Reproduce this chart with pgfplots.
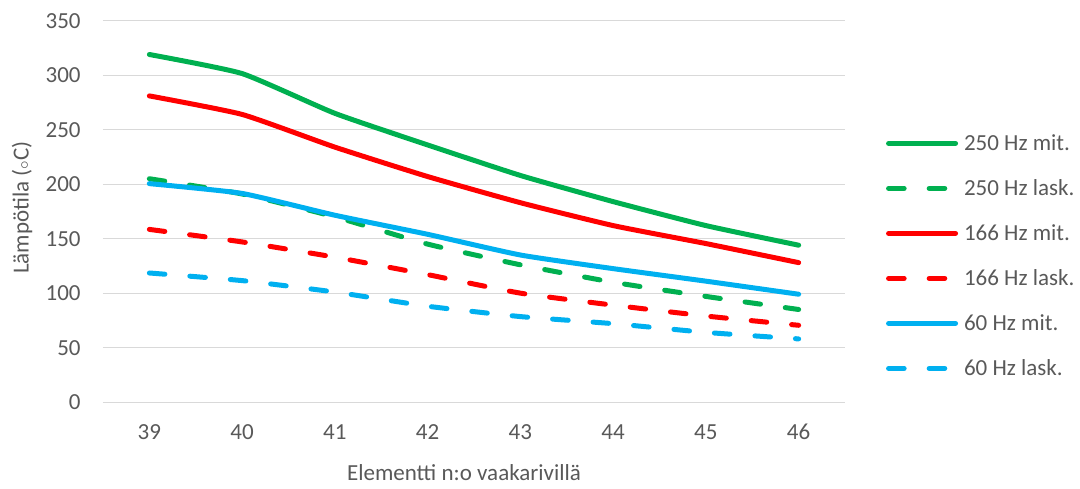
\documentclass[border=0pt]{standalone}
\usepackage{fontspec}
\setmainfont{Carlito}
\usepackage{pgfplots}
\pgfplotsset{compat=1.18}

\definecolor{xgreen}{HTML}{00B050}
\definecolor{xred}{HTML}{FF0000}
\definecolor{xblue}{HTML}{00B0F0}
\definecolor{gridgray}{HTML}{D9D9D9}
\definecolor{textgray}{HTML}{595959}

\begin{document}
\fontsize{11.5pt}{13.8pt}\selectfont
\begin{tikzpicture}
\begin{axis}[
    scale only axis,
    width=371pt, height=190.7pt,
    xmin=38.5, xmax=46.5,
    ymin=0, ymax=350,
    xtick={39,...,46},
    ytick={0,50,...,350},
    /pgf/number format/assume math mode=true,
    axis line style={draw=none},
    tick style={draw=none},
    ymajorgrids,
    major grid style={gridgray, line width=0.6pt},
    clip=false,
    xticklabel style={inner sep=0pt, text height=7.2pt, anchor=north, yshift=-11.5pt, text=textgray},
    yticklabel style={inner sep=0pt, anchor=east, xshift=-11pt, text=textgray},
    xlabel={Elementti n:o vaakarivillä},
    ylabel={Lämpötila (${\scriptstyle\circ}$C)},
    every axis x label/.style={at={(rel axis cs:0.4865,-0.2046)}, anchor=base, text=textgray},
    every axis y label/.style={at={(rel axis cs:-0.1092,0.51)}, rotate=90, anchor=center, text=textgray},
    every axis plot/.append style={line width=2.5pt, line cap=round, line join=round, smooth, tension=0.3},
    legend image code/.code={\draw[#1] (1.25pt,3.6pt) -- (34.75pt,3.6pt);},
    legend cell align=left,
    legend style={draw=none, fill=none, inner sep=0pt, outer sep=0pt,
        at={(rel axis cs:1.0553,0.7015)}, anchor=north west,
        row sep=12.5pt, column sep=3pt,
        nodes={inner sep=0pt, text height=8pt, text depth=2pt, anchor=base west, text=textgray}},
]
\addplot[xgreen] coordinates {(39,319) (40,301.5) (41,265) (42,236) (43,208) (44,184) (45,162) (46,144)};
\addlegendentry{250 Hz mit.}
\addplot[xgreen, dash pattern=on 7.8pt off 12.5pt] coordinates {(39,205) (40,191) (41,170) (42,145) (43,126) (44,110) (45,97) (46,85)};
\addlegendentry{250 Hz lask.}
\addplot[xred] coordinates {(39,281) (40,264) (41,234) (42,207) (43,183) (44,162) (45,145.5) (46,128)};
\addlegendentry{166 Hz mit.}
\addplot[xred, dash pattern=on 7.8pt off 12.5pt] coordinates {(39,158.5) (40,147) (41,133) (42,117) (43,100) (44,89) (45,79) (46,70.5)};
\addlegendentry{166 Hz lask.}
\addplot[xblue] coordinates {(39,200.5) (40,191.5) (41,171.5) (42,154) (43,135) (44,122.5) (45,111) (46,99)};
\addlegendentry{60 Hz mit.}
\addplot[xblue, dash pattern=on 7.8pt off 12.5pt] coordinates {(39,118.5) (40,111.5) (41,101) (42,88) (43,78.5) (44,72) (45,64) (46,58)};
\addlegendentry{60 Hz lask.}
% fixes the page to the reference's frame
\path (rel axis cs:-0.1388,-0.2177) rectangle (rel axis cs:1.3167,1.0543);
\end{axis}
\end{tikzpicture}
\end{document}
